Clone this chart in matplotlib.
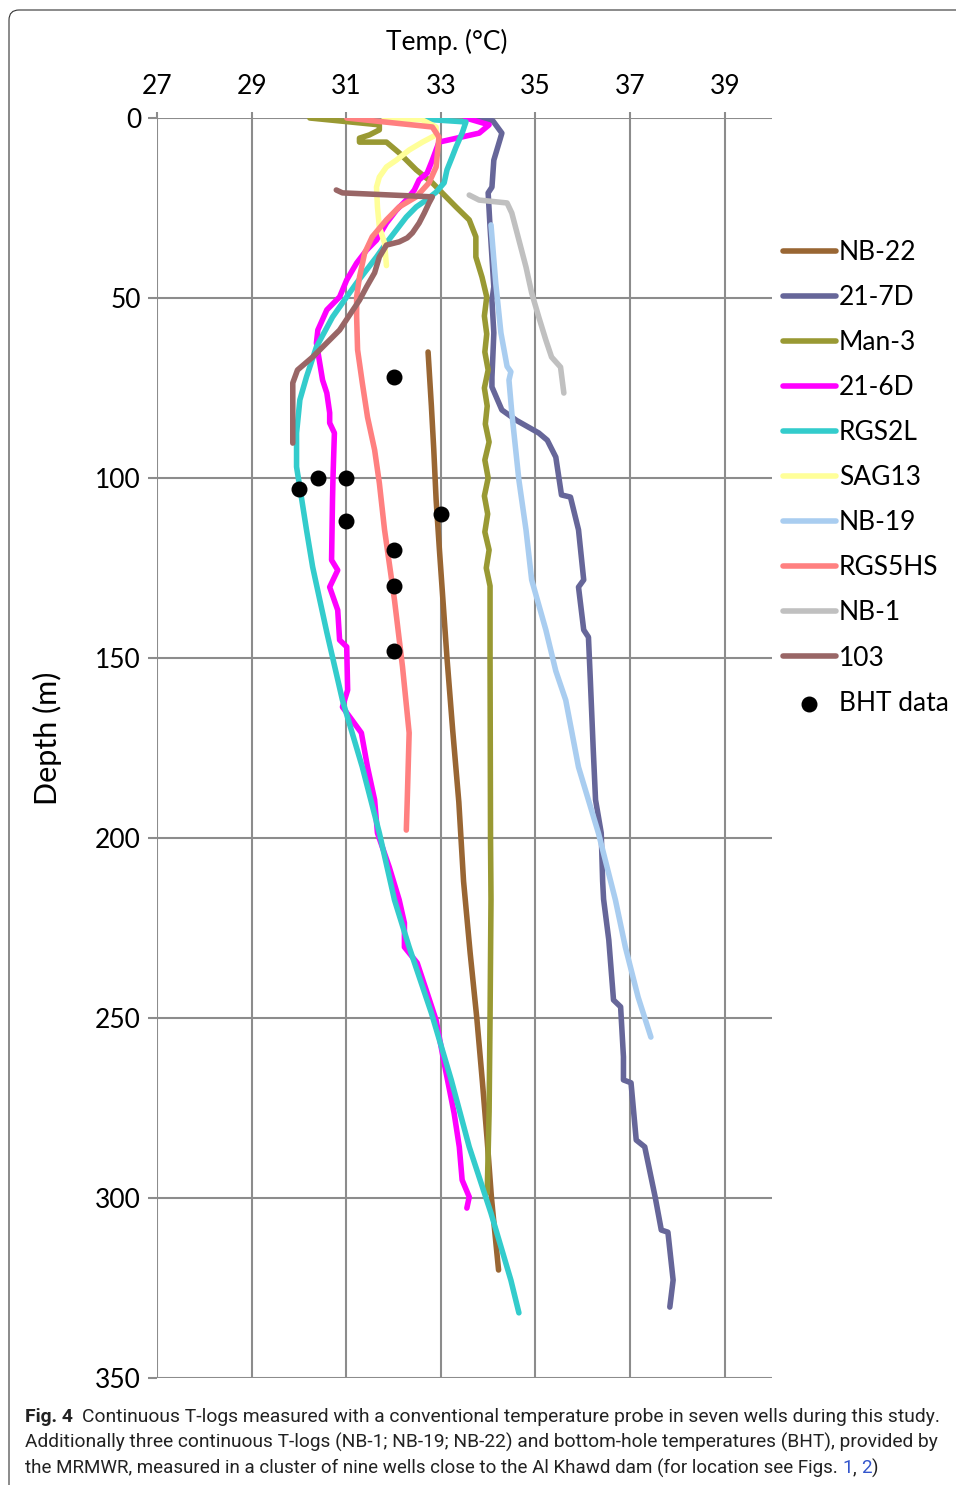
import matplotlib
matplotlib.use("Agg")
import matplotlib.pyplot as plt
from matplotlib.patches import FancyBboxPatch

# =====================================================
# DATA  (temperature in deg C, depth in m)
# =====================================================

nb22_t = [32.73, 32.80, 32.85, 32.90, 32.97, 33.05, 33.13, 33.25, 33.38, 33.48, 33.62, 33.76, 33.88, 33.98, 34.07, 34.22]
nb22_d = [65, 80, 92, 106, 120, 135, 150, 170, 190, 212, 232, 250, 268, 284, 300, 320]

w217d_t = [33.60, 34.10, 34.29, 34.25, 34.12, 34.08, 34.00, 34.04, 34.12, 34.08, 34.12, 34.10, 34.08, 34.08,
           34.29, 34.60, 35.07, 35.25, 35.43, 35.55, 35.74, 35.91, 36.02, 35.91, 36.02, 36.12, 36.16, 36.22,
           36.27, 36.39, 36.42, 36.44, 36.55, 36.65, 36.80, 36.86, 36.86, 37.02, 37.13, 37.31, 37.53, 37.66,
           37.80, 37.91, 37.84]
w217d_d = [0, 0.8, 4.2, 6, 11.7, 19.2, 20.8, 30.3, 46.9, 50.6, 59.7, 66, 72, 74.7,
           81.1, 84, 87.5, 89.5, 94.2, 104.7, 105.3, 114.4, 128.3, 130.3, 142.2, 144.2, 156.1, 175,
           189.4, 198.6, 212, 217, 228.3, 245, 246.9, 260.8, 267.2, 268, 283.9, 285.8, 299.7, 308.9,
           309.5, 322.8, 330.3]

man3_t = [30.23, 31.70, 31.70, 31.49, 31.28, 31.28, 31.85, 32.12, 32.48, 32.82, 33.11, 33.32, 33.60, 33.74,
          33.74, 33.87, 33.97, 33.92, 33.97, 33.93, 34.00, 33.92, 33.98, 33.94, 34.02, 33.93, 34.00, 33.92,
          33.99, 33.93, 34.02, 33.96, 34.04, 34.04, 34.05, 34.06, 34.04, 34.02, 33.98]
man3_d = [0, 1.9, 3.3, 4.7, 5.6, 6.7, 6.7, 9.7, 14.4, 18, 21.9, 24.7, 28.3, 33,
          38.6, 44.2, 49.7, 55, 60, 65, 70, 75, 80, 85, 90, 95, 100, 105,
          110, 115, 120, 125, 130, 150, 200, 217, 250, 276, 298.6]

w216d_t = [33.53, 34.02, 33.81, 32.96, 32.82, 32.71, 32.54, 32.44, 32.27, 32.06, 31.85, 31.64, 31.43, 31.22,
           31.01, 30.86, 30.59, 30.40, 30.37, 30.50, 30.59, 30.65, 30.65, 30.75, 30.72, 30.71, 30.69, 30.82,
           30.65, 30.82, 30.86, 31.01, 31.03, 30.92, 31.32, 31.45, 31.60, 31.66, 31.91, 32.12, 32.23, 32.23,
           32.50, 32.69, 32.90, 33.07, 33.28, 33.39, 33.45, 33.60, 33.55]
w216d_d = [0, 1.9, 4.2, 6.7, 11.7, 15.3, 17.2, 20, 22.8, 25.6, 29.2, 33.9, 36.7, 40.3,
           45, 49.7, 53.3, 58.9, 62.5, 72.8, 76.4, 81.9, 84.7, 87.5, 100, 106, 122.8, 125.6,
           130.3, 136.7, 145, 146.9, 158.9, 163.6, 170.8, 180.3, 189.4, 198.6, 208.1, 217.2, 223.6, 230.3,
           234.7, 242.2, 250.6, 262.5, 276.4, 285.8, 295, 299.7, 302.8]

rgs2l_t = [32.27, 33.53, 33.45, 33.32, 33.24, 33.13, 33.07, 32.90, 32.69, 32.48, 32.27, 32.06, 31.85, 31.64,
           31.43, 31.22, 31.01, 30.71, 30.37, 30.16, 30.02, 29.95, 29.95, 30.06, 30.16, 30.29, 30.59, 30.92,
           31.34, 31.70, 32.02, 32.33, 32.80, 33.22, 33.60, 34.06, 34.48, 34.65]
rgs2l_d = [0, 1.1, 4.2, 8.1, 10.8, 14.4, 18, 20.6, 22.8, 24.7, 27.5, 31.1, 34.7, 38.6,
           42.2, 45.8, 49.7, 55.3, 63.6, 71.9, 78.3, 87.5, 96.9, 106, 114.4, 124.7, 142.9, 161.7,
           180.3, 198.6, 217.2, 230.3, 248.6, 267.2, 285.8, 304.2, 322.8, 331.9]

sag13_t = [31.80, 32.60, 32.90, 32.90, 32.61, 32.33, 32.06, 31.85, 31.70, 31.64, 31.66, 31.70, 31.81, 31.85]
sag13_d = [0, 0.5, 2.5, 4.7, 6.7, 8.9, 11.7, 13.6, 16.4, 19.2, 24.7, 30.3, 34.7, 41.0]

nb19_t = [34.06, 34.16, 34.27, 34.40, 34.48, 34.44, 34.50, 34.65, 34.80, 34.92, 35.22, 35.43, 35.64, 35.91,
          36.33, 36.69, 36.90, 37.17, 37.44]
nb19_d = [29.7, 45.8, 59.7, 69, 70.5, 72.8, 81.9, 100.6, 114.4, 128.3, 142.2, 153.6, 161.7, 180.3,
          198.6, 217.2, 230.3, 244.2, 255.3]

rgs5hs_t = [31.01, 32.82, 32.96, 32.90, 32.75, 32.48, 32.12, 31.85, 31.55, 31.39, 31.28, 31.22, 31.22, 31.24,
            31.34, 31.45, 31.60, 31.70, 31.81, 31.85, 32.02, 32.19, 32.33, 32.29, 32.27]
rgs5hs_d = [0, 2.5, 5.3, 13.6, 18, 21.9, 24.7, 28.3, 33, 37.5, 44.2, 49.7, 55.3, 64.4,
            73.6, 83.1, 92.2, 101.4, 114.4, 118.1, 133.9, 152.5, 170.8, 189.4, 197.8]

nb1_t = [33.60, 33.81, 34.40, 34.50, 34.65, 34.80, 34.92, 35.07, 35.22, 35.34, 35.53, 35.60]
nb1_d = [21.4, 22.8, 23.6, 26.4, 33.9, 41.4, 48.6, 55.3, 61.7, 66.4, 69.2, 76.4]

w103_t = [30.79, 30.92, 32.82, 32.75, 32.65, 32.54, 32.40, 32.29, 32.12, 31.85, 31.70, 31.60, 31.43, 31.28,
          30.86, 30.29, 29.97, 29.87, 29.87]
w103_d = [20, 20.8, 21.9, 23.6, 26.4, 29.2, 31.9, 33.3, 34.4, 35.3, 38.6, 43, 46.9, 50.6,
          58.9, 66.4, 70, 73.6, 90.3]

bht_t = [32.0, 30.0, 30.4, 31.0, 31.0, 33.0, 32.0, 32.0, 32.0]
bht_d = [72, 103, 100, 100, 112, 110, 120, 130, 148]

series = [
    ("NB-22", nb22_t, nb22_d, "#996633"),
    ("21-7D", w217d_t, w217d_d, "#666699"),
    ("Man-3", man3_t, man3_d, "#999933"),
    ("21-6D", w216d_t, w216d_d, "#ff00ff"),
    ("RGS2L", rgs2l_t, rgs2l_d, "#33cccc"),
    ("SAG13", sag13_t, sag13_d, "#ffff99"),
    ("NB-19", nb19_t, nb19_d, "#a9cdf0"),
    ("RGS5HS", rgs5hs_t, rgs5hs_d, "#ff8080"),
    ("NB-1", nb1_t, nb1_d, "#c0c0c0"),
    ("103", w103_t, w103_d, "#996666"),
]

x_ticks = [27, 29, 31, 33, 35, 37, 39]
y_ticks = [0, 50, 100, 150, 200, 250, 300, 350]

caption_lines = [
    [("Fig. 4", "bold"), ("  ", "plain"),
     ("Continuous T-logs measured with a conventional temperature probe in seven wells during this study.", "plain")],
    [("Additionally three continuous T-logs (NB-1; NB-19; NB-22) and bottom-hole temperatures (BHT), provided by", "plain")],
    [("the MRMWR, measured in a cluster of nine wells close to the Al Khawd dam (for location see Figs. ", "plain"),
     ("1", "link"), (", ", "plain"), ("2", "link"), (")", "plain")],
]

# =====================================================
# FIGURE
# =====================================================

W, H = 956, 1485
fig = plt.figure(figsize=(W / 100, H / 100), dpi=100)
plt.rcParams["font.family"] = ["Lato", "DejaVu Sans"]

# thin rounded frame around the figure (cut off right and bottom)
frame = FancyBboxPatch((0.09, -0.3), 12, 15.05, boxstyle="round,pad=0,rounding_size=0.1",
                       transform=fig.dpi_scale_trans, fill=False, edgecolor="#333333", linewidth=0.8)
fig.patches.append(frame)

ax = fig.add_axes([157 / W, 1 - 1378 / H, (772 - 157) / W, (1378 - 118) / H])

for name, t, d, c in series:
    ax.plot(t, d, color=c, linewidth=4.0, label=name, solid_capstyle="round",
            solid_joinstyle="round", zorder=3)
ax.scatter(bht_t, bht_d, s=110, color="black", label="BHT data", zorder=5)

ax.set_xlim(27, 40)
ax.set_ylim(350, 0)
ax.set_xticks(x_ticks)
ax.set_yticks(y_ticks)
ax.xaxis.tick_top()
ax.xaxis.set_label_position("top")
ax.grid(True, color="#8c8c8c", linewidth=1.5, zorder=0)
ax.set_axisbelow(True)
for s in ax.spines.values():
    s.set_visible(False)
ax.tick_params(axis="x", length=4.5, width=1.5, color="#8c8c8c", pad=9, labelsize=19)
ax.tick_params(axis="y", length=6.5, width=1.5, color="#8c8c8c", pad=5, labelsize=19)

ax.set_xlabel("Temp. (°C)", fontsize=19)
ax.xaxis.set_label_coords((447 - 157) / 615, (1378 - 50) / 1260)
ax.set_ylabel("Depth (m)", fontsize=22)
ax.yaxis.set_label_coords((62 - 157) / 615, (1378 - 738) / 1260)

leg = ax.legend(loc="upper left", bbox_to_anchor=(783 / W, 1 - 240 / H), bbox_transform=fig.transFigure,
                frameon=False, fontsize=19, handlelength=2.0, handletextpad=0.12, labelspacing=0.76,
                borderpad=0, borderaxespad=0)

# =====================================================
# CAPTION  (sized so each line spans the same width as the reference)
# =====================================================

renderer = fig.canvas.get_renderer()
cap_styles = {
    "plain": {"color": "#222222"},
    "bold": {"color": "#222222", "fontweight": "bold"},
    "link": {"color": "#3355cc"},
}
cap_rows = [(1417, 912), (1442, 912), (1468, 853)]


def caption_line(parts, y_px, width_px):
    # first pass: measure at a trial size
    base = 12.0
    total = 0
    for s, st in parts:
        t = fig.text(0, 0, s, fontsize=base, family="Roboto", **cap_styles[st])
        total += t.get_window_extent(renderer).width
        t.remove()
    size = base * width_px / total
    x = 25
    for s, st in parts:
        t = fig.text(x / W, 1 - y_px / H, s, fontsize=size, family="Roboto", va="center", **cap_styles[st])
        x += t.get_window_extent(renderer).width


for parts, (y_px, w_px) in zip(caption_lines, cap_rows):
    caption_line(parts, y_px, w_px)

fig.savefig("out.png", dpi=100)
